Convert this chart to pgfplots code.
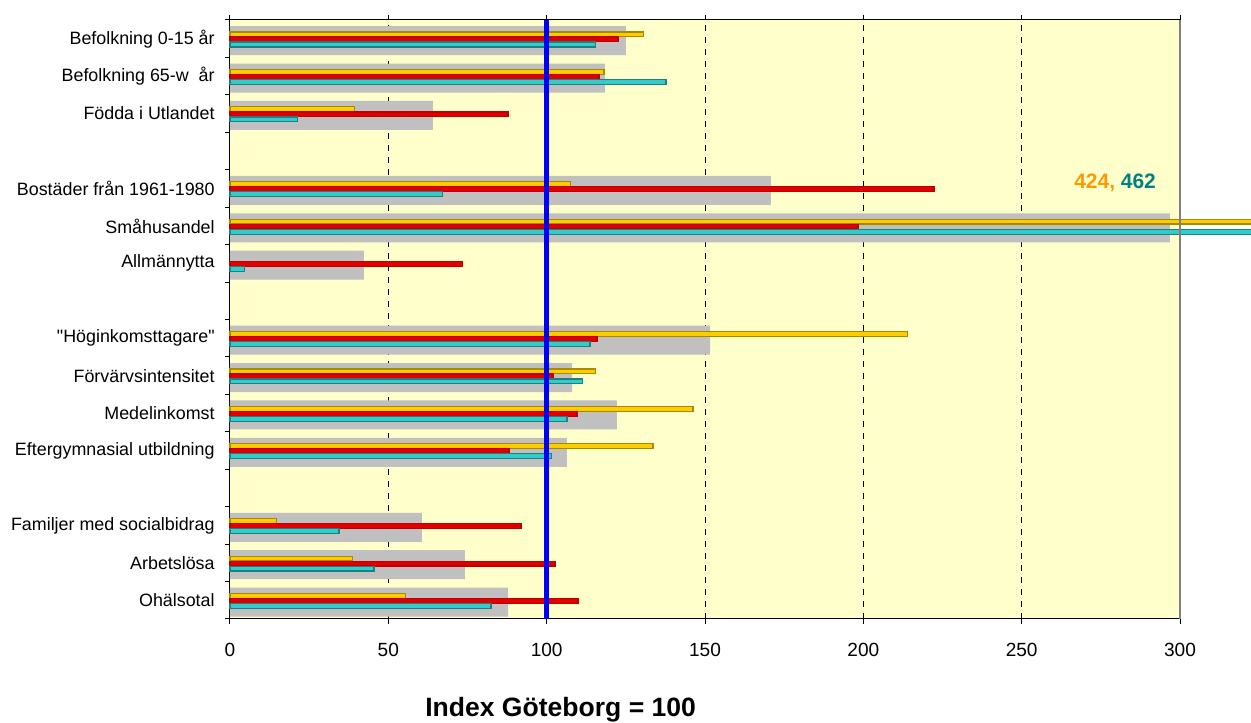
\documentclass[border=0pt]{standalone}
\usepackage{pgfplots}
\pgfplotsset{compat=1.18}
\usepackage{pgfplotstable}
\usepackage{fontspec}
\setmainfont{Liberation Sans}[Ligatures=TeXOff]

\definecolor{bg}{HTML}{FFFFCC}
\definecolor{barGray}{HTML}{C0C0C0}
\definecolor{ylwFill}{HTML}{FFCC00}
\definecolor{ylwDraw}{HTML}{A88A00}
\definecolor{redFill}{HTML}{E00000}
\definecolor{redDraw}{HTML}{C00000}
\definecolor{tealFill}{HTML}{33CCCC}
\definecolor{tealDraw}{HTML}{208080}
\definecolor{lblOrange}{HTML}{FF9900}
\definecolor{lblTeal}{HTML}{008080}

% y: 15 = top row, gaps at 12, 8, 3
\pgfplotstableread{
y  gray  yellow red   teal
15 125.0 130.7  122.8 115.3
14 118.4 118.1  116.5 137.7
13 64.1  39.2   87.8  21.2
11 170.8 107.4  222.3 67.0
10 296.8 424    198.3 462
9  42.3  nan    73.3  4.7
7  151.6 214.0  115.9 113.7
6  108.0 115.3  102.0 111.2
5  122.2 146.2  109.6 106.4
4  106.4 133.6  88.1  101.4
2  60.6  14.8   91.9  34.4
1  74.2  38.8   102.6 45.5
0  87.8  55.3   109.9 82.4
}\data

\begin{document}
\begin{tikzpicture}
\useasboundingbox (-172.5pt,-78pt) rectangle (765.75pt,464.25pt);
\clip (-172.5pt,-78pt) rectangle (765.75pt,464.25pt);
\begin{axis}[
    scale only axis,
    width=712.5pt, height=449.25pt,
    xmin=0, xmax=300,
    ymin=-0.5, ymax=15.5,
    clip=false,
    axis background/.style={fill=bg},
    axis line style={black, line width=0.75pt},
    tick align=outside,
    major tick length=4pt,
    tick style={black, line width=0.75pt},
    xtick={0,50,...,300},
    x tick label style={font=\fontsize{14.3}{16}\selectfont, yshift=-10.5pt},
    xtick pos=both,
    xticklabel pos=lower,
    xmajorgrids=true,
    grid style={black, line width=0.75pt, dash pattern=on 4.5pt off 4.5pt},
    ytick={-0.5,0.5,...,15.5},
    ytick pos=left,
    yticklabels={Ohälsotal, Arbetslösa, Familjer med socialbidrag, {},
      Eftergymnasial utbildning, Medelinkomst, Förvärvsintensitet,
      "Höginkomsttagare",
      {}, Allmännytta, Småhusandel, Bostäder från 1961-1980, {},
      Födda i Utlandet, Befolkning 65-w~ år, Befolkning 0-15 år, {}},
    y tick label style={font=\fontsize{13.4}{15}\selectfont, yshift=14.04pt, xshift=-4pt},
    /pgf/number format/assume math mode=true,
]
\addplot[xbar, bar width=0.775, bar shift=-0.05, fill=barGray, draw=none]
    table[x=gray, y=y] {\data};
\addplot[xbar, bar width=0.13, bar shift=0.115, fill=ylwFill, draw=ylwDraw, line width=0.9pt]
    table[x=yellow, y=y] {\data};
\addplot[xbar, bar width=0.13, bar shift=-0.02, fill=redFill, draw=redDraw, line width=0.9pt]
    table[x=red, y=y] {\data};
\addplot[xbar, bar width=0.13, bar shift=-0.155, fill=tealFill, draw=tealDraw, line width=0.9pt]
    table[x=teal, y=y] {\data};
\addplot[color=blue, line width=3.5pt] coordinates {(100,-0.5) (100,15.5)};
\draw[gray, line width=1.5pt] (rel axis cs:1,0) -- (rel axis cs:1,1);
\node[font=\fontsize{15.7}{18}\selectfont\bfseries] at (axis cs:279.5,11.15)
    {\textcolor{lblOrange}{424,} \textcolor{lblTeal}{462}};
\node[font=\fontsize{19.9}{23}\selectfont\bfseries, anchor=base]
    at ([yshift=-73.5pt]rel axis cs:0.348,0) {Index Göteborg = 100};
\end{axis}
\end{tikzpicture}
\end{document}
